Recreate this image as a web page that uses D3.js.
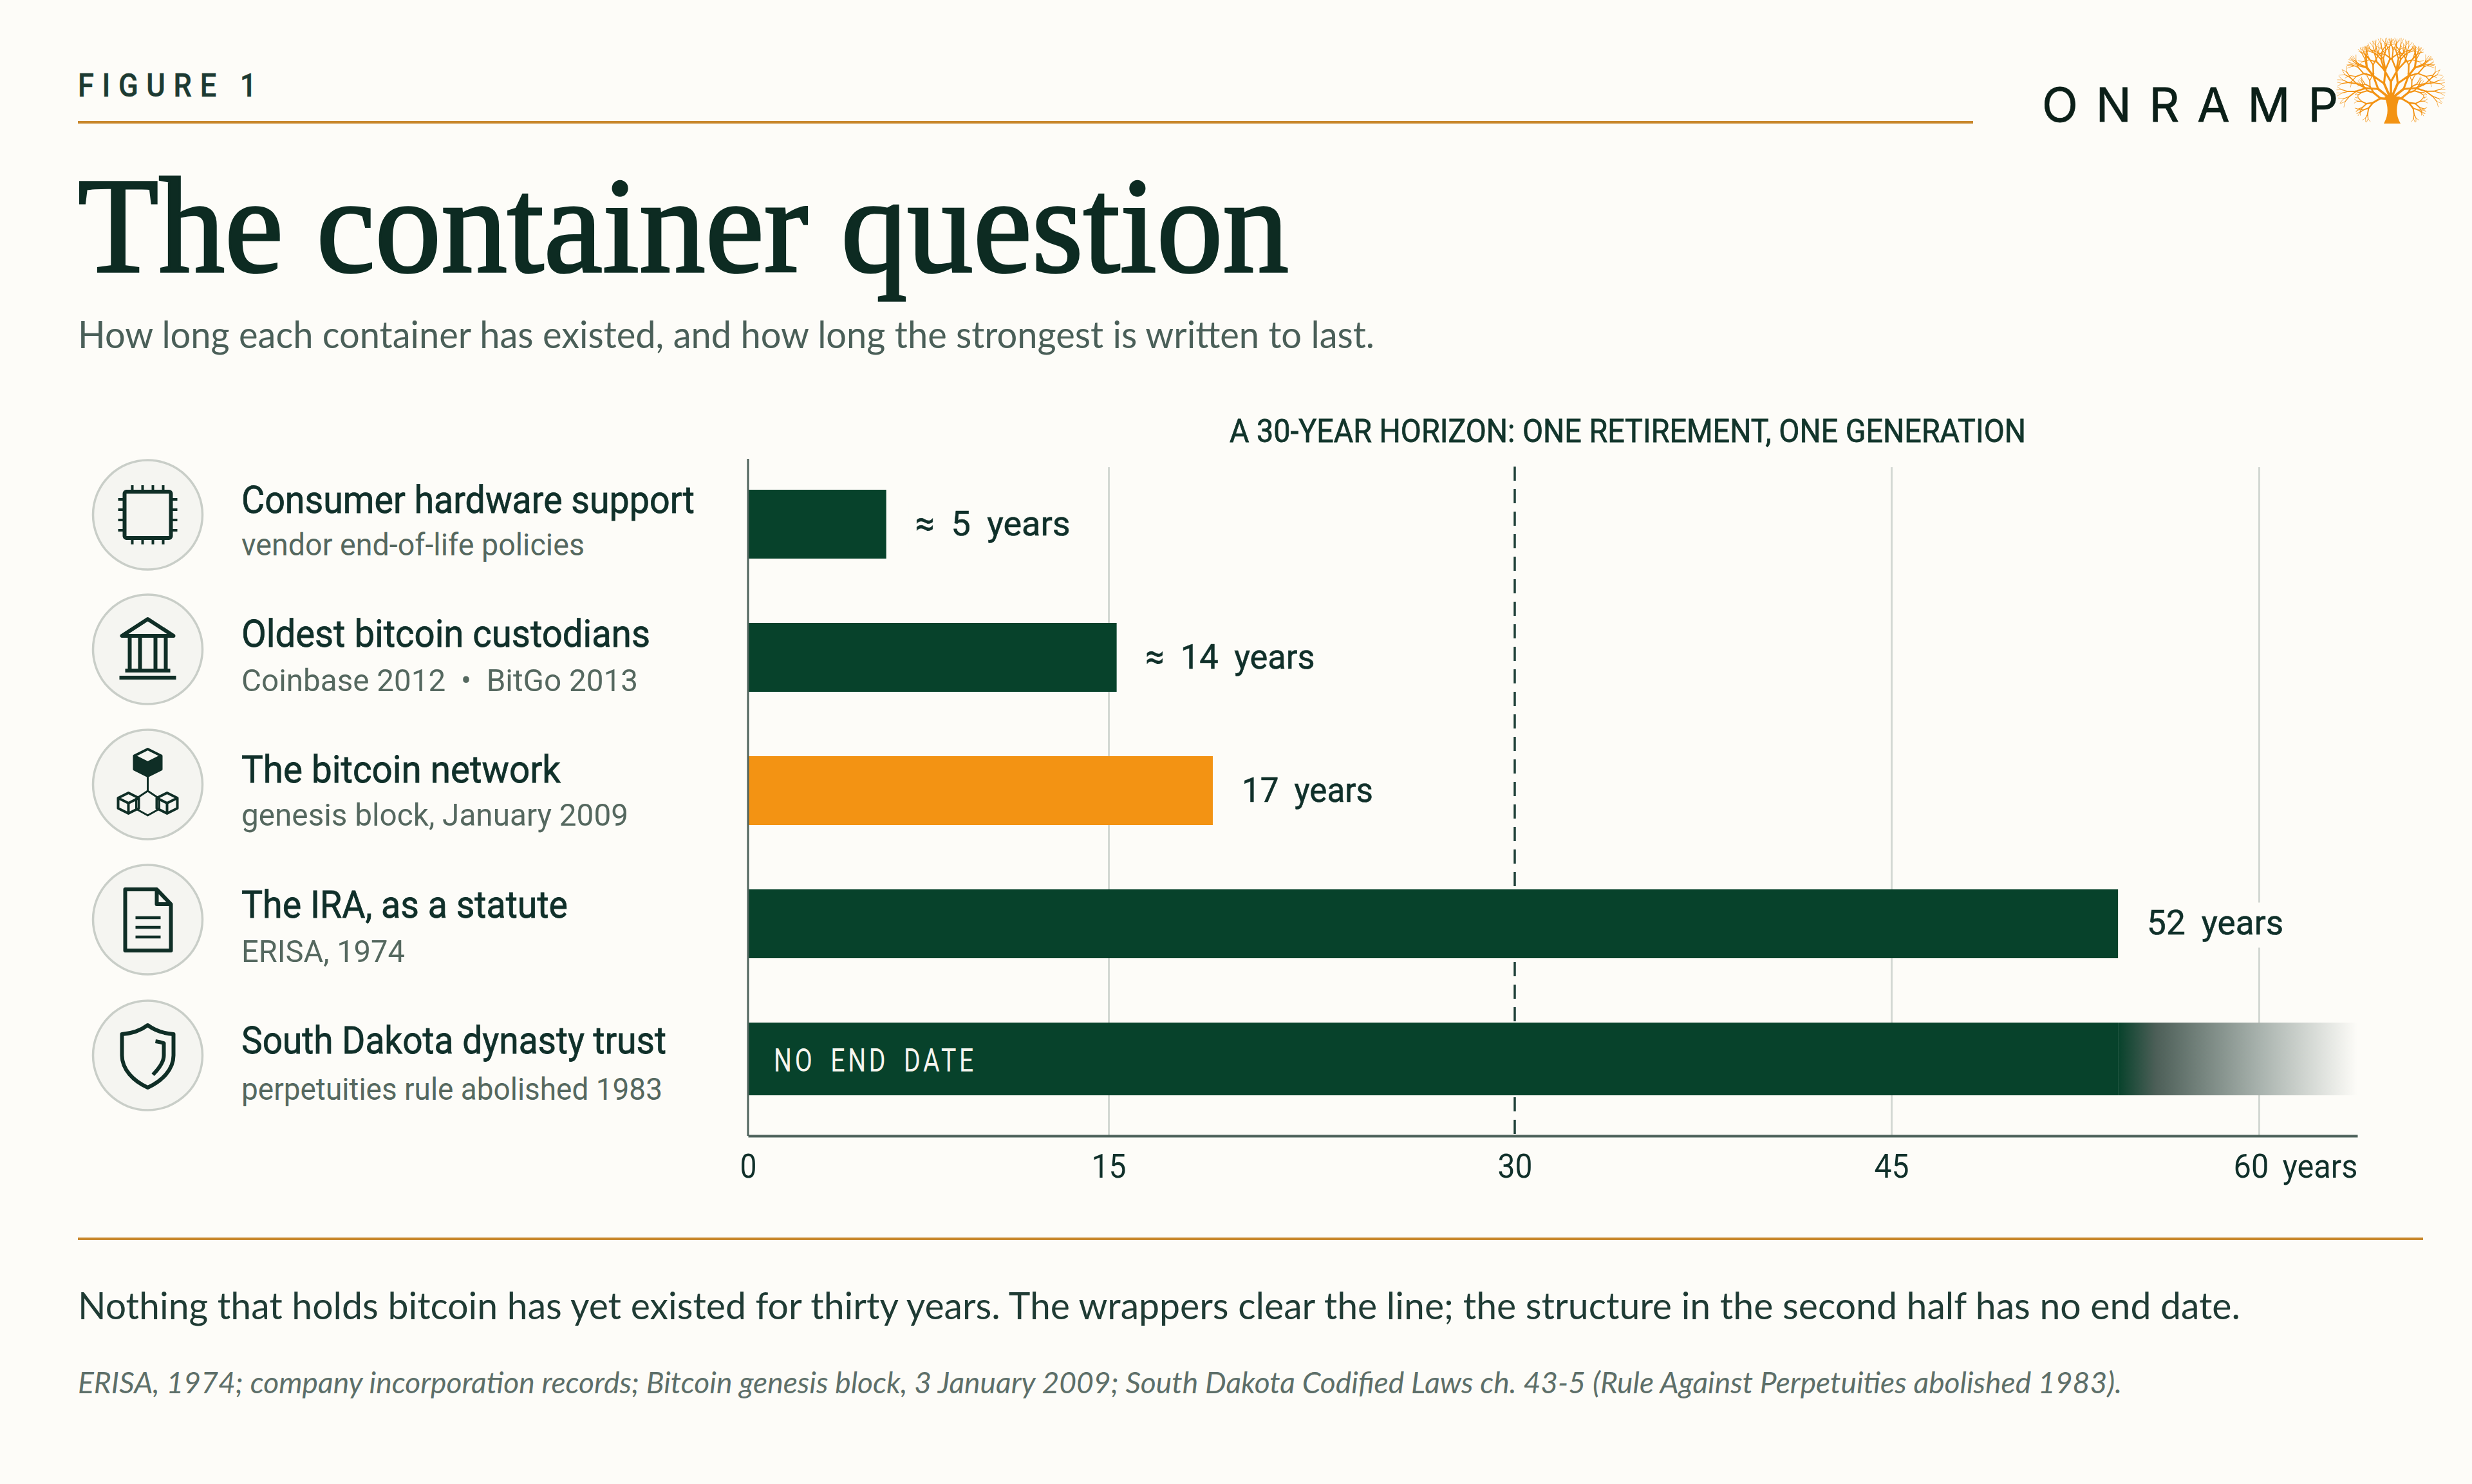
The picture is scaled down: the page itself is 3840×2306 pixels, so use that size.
<!DOCTYPE html>
<html>
<head>
<meta charset="utf-8">
<title>The container question</title>
<script src="https://cdn.jsdelivr.net/npm/d3@7"></script>
<style>
  html, body { margin: 0; padding: 0; background: #fdfcf8; }
  svg { display: block; }
  text { font-family: Roboto, sans-serif; }
</style>
</head>
<body>
<div class="chart"></div>
<script>
/* values */
const categories = ["Consumer hardware support", "Oldest bitcoin custodians", "The bitcoin network", "The IRA, as a statute", "South Dakota dynasty trust"];
const subLabels = ["vendor end-of-life policies", "Coinbase 2012\u00a0\u00a0•\u00a0\u00a0BitGo 2013", "genesis block, January 2009", "ERISA, 1974", "perpetuities rule abolished 1983"];
// where each bar ends against the drawn ticks; the printed labels say slightly less
const barValues = [5.75, 15.3, 18.85, 54.25];
const valueLabels = ["≈ 5 years", "≈ 14 years", "17 years", "52 years"];
const fadeValues = [54.25, 64]; // last bar is solid up to the first value, gone by the second
const noEndLabel = "NO END DATE";
const tickValues = [0, 15, 30, 45, 60];
const horizonValue = 30;
const horizonLabel = "A 30-YEAR HORIZON: ONE RETIREMENT, ONE GENERATION";

/* colours */
const bg = "#fdfcf8", green = "#07422b", orange = "#f39313", ink = "#10302a", muted = "#55685f";

const titleLens = [704, 635, 496, 507, 660];
const subLens = [533, 616, 601, 254, 654];
const valueLens = [241, 263, 204, 212];

const width = 3840, height = 2306;
const plotTop = 726, axisY = 1765;

const svg = d3.select(".chart").append("svg")
    .attr("width", width)
    .attr("height", height)
    .attr("viewBox", `0 0 ${width} ${height}`)
    .style("background", bg);

// the ticks in the reference are not evenly spaced, so the scale is piecewise
const x = d3.scaleLinear()
    .domain([0, 15, 30, 45, 60, 64])
    .range([1162, 1722, 2353, 2938, 3509, 3662]);

const y = d3.scaleBand()
    .domain(categories)
    .range([761, 1696])
    .paddingInner(0.483)
    .paddingOuter(0);

/**
 * Adds one text, squeezed or spread to the measured width
 */
function put(parent, str, px, py, size, color, len, opts = {}) {
    const t = parent.append("text")
        .attr("x", px)
        .attr("y", py)
        .attr("font-size", size)
        .attr("fill", color)
        .text(str);
    if (len) {
        t.attr("textLength", len).attr("lengthAdjust", opts.adjust || "spacingAndGlyphs");
    }
    if (opts.family) t.style("font-family", opts.family);
    if (opts.weight) t.attr("font-weight", opts.weight);
    if (opts.italic) t.attr("font-style", "italic");
    if (opts.wordSpacing) t.style("word-spacing", opts.wordSpacing + "px");
    if (opts.letterSpacing) t.style("letter-spacing", opts.letterSpacing + "px");
    if (opts.stroke) t.attr("stroke", color).attr("stroke-width", opts.stroke);
    return t;
}

/* header */
put(svg, "FIGURE 1", 121, 150, 50, "#1c3a32", 290, {weight: 500, letterSpacing: 14, stroke: 0.5});
svg.append("line").attr("x1", 121).attr("x2", 3065).attr("y1", 190).attr("y2", 190)
    .attr("stroke", "#c8872b").attr("stroke-width", 4);
put(svg, "The container question", 121, 422, 213, "#0d2b22", 1881, {family: "'Liberation Serif', serif", stroke: 3.5});
put(svg, "How long each container has existed, and how long the strongest is written to last.", 121, 541, 58, "#4a5f58", 2014, {family: "Lato, sans-serif"});

/* logo */
put(svg, "ONRAMP", 3172, 189, 73, "#0b1f18", 460, {family: "Inter, sans-serif", adjust: "spacing", stroke: 0.8});
drawTree();

/* grid and axis */
const gridAxis = d3.axisBottom(x).tickValues(tickValues.filter(d => d !== 0 && d !== horizonValue))
    .tickSize(-(axisY - plotTop)).tickFormat("");
const grid = svg.append("g").attr("transform", `translate(0,${axisY})`).call(gridAxis);
grid.select(".domain").remove();
grid.selectAll("line").attr("stroke", "#d3d8d3").attr("stroke-width", 3);

svg.append("line")
    .attr("x1", x(horizonValue)).attr("x2", x(horizonValue))
    .attr("y1", 725).attr("y2", axisY)
    .attr("stroke", "#1f4038").attr("stroke-width", 3.5)
    .attr("stroke-dasharray", "22 13");
put(svg, horizonLabel, 1910, 687, 50, "#12352b", 1237, {stroke: 0.8});

/* bars */
svg.selectAll("rect.bar")
    .data(barValues)
    .enter()
    .append("rect")
    .attr("class", "bar")
    .attr("x", x(0))
    .attr("y", (d, i) => y(categories[i]))
    .attr("width", d => x(d) - x(0))
    .attr("height", y.bandwidth())
    .attr("fill", (d, i) => i === 2 ? orange : green);

// last bar fades out, it has no end
const defs = svg.append("defs");
const fade = defs.append("linearGradient").attr("id", "fade")
    .attr("gradientUnits", "userSpaceOnUse")
    .attr("x1", x(fadeValues[0])).attr("x2", x(fadeValues[1]))
    .attr("y1", 0).attr("y2", 0);
[[0, green], [0.16, "#4d5f58"], [0.59, "#a8b2ad"], [1, bg]].forEach(s => {
    fade.append("stop").attr("offset", s[0]).attr("stop-color", s[1]);
});
const lastTop = y(categories[4]);
svg.append("rect")
    .attr("x", x(0)).attr("y", lastTop)
    .attr("width", x(fadeValues[0]) - x(0))
    .attr("height", y.bandwidth() + 6)
    .attr("fill", green);
svg.append("rect")
    .attr("x", x(fadeValues[0])).attr("y", lastTop)
    .attr("width", x(fadeValues[1]) - x(fadeValues[0]))
    .attr("height", y.bandwidth() + 6)
    .attr("fill", "url(#fade)");
put(svg, noEndLabel, 1202, 1665, 50, "#f6f5ef", 315, {letterSpacing: 6, wordSpacing: 12});

/* value labels, with a patch of paper so gridlines stop short of the text */
barValues.forEach((d, i) => {
    const lx = x(d) + 45;
    const ly = y(categories[i]) + y.bandwidth() / 2 + 17;
    svg.append("rect")
        .attr("x", lx - 10).attr("y", ly - 50)
        .attr("width", valueLens[i] + 20).attr("height", 70)
        .attr("fill", bg);
    put(svg, valueLabels[i], lx, ly, 54, ink, valueLens[i], {wordSpacing: 12, stroke: 0.6});
});

/* axes, drawn last so the lines sit on the bars' ends */
svg.append("line")
    .attr("x1", x(0)).attr("x2", x(0)).attr("y1", 713).attr("y2", axisY)
    .attr("stroke", "#4f635c").attr("stroke-width", 3);

const xAxis = d3.axisBottom(x)
    .tickValues(tickValues)
    .tickSize(0)
    .tickPadding(40)
    .tickFormat(d => d === 60 ? "60 years" : d);
const axisG = svg.append("g").attr("transform", `translate(0,${axisY})`).call(xAxis);
axisG.select(".domain").attr("stroke", "#4f635c").attr("stroke-width", 4);
axisG.selectAll("text")
    .attr("font-size", 52)
    .attr("fill", ink)
    .attr("y", 65)
    .attr("dy", 0)
    .style("font-family", "Roboto, sans-serif")
    .attr("textLength", d => d === 0 ? 26 : d === 60 ? 193 : 54)
    .attr("lengthAdjust", "spacingAndGlyphs");
axisG.selectAll(".tick").filter(d => d === 60).select("text")
    .attr("text-anchor", "start")
    .attr("x", -40)
    .style("word-spacing", "10px");

/* left column */
const rowCentres = [800, 1009, 1219, 1429, 1640];
const titleBase = [797, 1005, 1216, 1426, 1637];
const subBase = [863, 1074, 1283, 1495, 1709];
const iconDraw = [iconChip, iconBank, iconBlocks, iconDoc, iconShield];

categories.forEach((name, i) => {
    const g = svg.append("g").attr("transform", `translate(229.5,${rowCentres[i]})`);
    g.append("circle").attr("r", 85).attr("fill", "#f5f5f1").attr("stroke", "#c9cec8").attr("stroke-width", 3.5);
    const icon = g.append("g").attr("fill", "none").attr("stroke", "#0f2e26")
        .attr("stroke-width", 6).attr("stroke-linejoin", "round");
    iconDraw[i](icon);
    put(svg, name, 375, titleBase[i], 59, ink, titleLens[i], {stroke: 0.8});
    put(svg, subLabels[i], 375, subBase[i], 49, muted, subLens[i]);
});

/* footer */
svg.append("line").attr("x1", 121).attr("x2", 3764).attr("y1", 1925).attr("y2", 1925)
    .attr("stroke", "#c8872b").attr("stroke-width", 4);
put(svg, "Nothing that holds bitcoin has yet existed for thirty years. The wrappers clear the line; the structure in the second half has no end date.", 121, 2050, 58, "#1f3b34", 3359, {family: "Lato, sans-serif"});
put(svg, "ERISA, 1974; company incorporation records; Bitcoin genesis block, 3 January 2009; South Dakota Codified Laws ch. 43-5 (Rule Against Perpetuities abolished 1983).", 121, 2165, 46, "#5d6f69", 3175, {family: "Lato, sans-serif", italic: true});

/**
 * Draws the orange logo tree: tapered trunk and a branching crown
 */
function drawTree() {
    const g = svg.append("g").attr("fill", "none").attr("stroke", orange).attr("stroke-linecap", "round");
    g.append("path")
        .attr("d", "M3703 192 C3711 178 3710 165 3704 150 L3728 150 C3722 165 3721 178 3729 192 Z")
        .attr("fill", orange).attr("stroke", "none");
    const levels = d3.range(6).map(() => d3.path());
    function branch(px, py, angle, len, depth) {
        const nx = px + Math.sin(angle) * len * 0.9;
        const ny = py - Math.cos(angle) * len;
        levels[depth].moveTo(px, py);
        levels[depth].lineTo(nx, ny);
        if (depth === 0) return;
        const spread = 0.4 + 0.16 * Math.sin(depth * 3.1 + px * 0.7);
        branch(nx, ny, angle - spread, len * 0.8, depth - 1);
        branch(nx, ny, angle + spread, len * 0.8, depth - 1);
    }
    [-1.5, -0.95, -0.45, 0, 0.45, 0.95, 1.5].forEach(a => {
        branch(3714, 154, a, Math.abs(a) > 1.2 ? 18 : 27, 5);
    });
    levels.forEach((p, depth) => {
        g.append("path").attr("d", p.toString()).attr("stroke-width", 0.7 + depth * 0.6);
    });
}

/* icons, drawn around the circle centre */
function iconChip(g) {
    g.append("rect").attr("x", -36).attr("y", -36).attr("width", 72).attr("height", 72).attr("rx", 3);
    const pins = d3.path();
    [-24, -8, 8, 24].forEach(p => {
        pins.moveTo(p, -36); pins.lineTo(p, -46);
        pins.moveTo(p, 36); pins.lineTo(p, 46);
        pins.moveTo(-36, p); pins.lineTo(-46, p);
        pins.moveTo(36, p); pins.lineTo(46, p);
    });
    g.append("path").attr("d", pins.toString()).attr("stroke-width", 4);
}

function iconBank(g) {
    g.append("path").attr("d", "M0 -47 L-40 -21 L40 -21 Z");
    g.append("path").attr("d", "M-28 -21 V30 M-12 -21 V30 M12 -21 V30 M28 -21 V30");
    g.append("path").attr("d", "M-35 33 H35 M-44 44 H44");
}

function cube(g, cx, cy, r, filled) {
    g.append("path").attr("stroke-width", 4)
        .attr("d", `M${cx} ${cy - r} L${cx + r} ${cy - r / 2} V${cy + r / 2} L${cx} ${cy + r} L${cx - r} ${cy + r / 2} V${cy - r / 2} Z M${cx - r} ${cy - r / 2} L${cx} ${cy} L${cx + r} ${cy - r / 2} M${cx} ${cy} V${cy + r}`);
    if (filled) {
        g.append("path").attr("fill", "#0f2e26").attr("stroke", "none")
            .attr("d", `M${cx - r} ${cy - r / 2} L${cx} ${cy} V${cy + r} L${cx - r} ${cy + r / 2} Z M${cx + r} ${cy - r / 2} L${cx} ${cy} V${cy + r} L${cx + r} ${cy + r / 2} Z`);
    }
}

function iconBlocks(g) {
    cube(g, 0, -34, 21, true);
    g.append("path").attr("stroke-width", 3).attr("d", "M0 -12 V10 M-18 22 L0 10 L18 22 V38 L0 48 L-18 38 Z");
    cube(g, -30, 29, 16, false);
    cube(g, 30, 29, 16, false);
}

function iconDoc(g) {
    g.append("path").attr("d", "M-35 -47 H14 L36 -24 V48 H-35 Z M14 -47 V-24 H36");
    g.append("path").attr("stroke-width", 4.5).attr("d", "M-19 -3 H20 M-19 12 H20 M-19 27 H20");
}

function iconShield(g) {
    g.append("path").attr("d", "M0 -47 C12 -38 26 -34 40 -33 V0 C40 22 22 40 0 50 C-22 40 -40 22 -40 0 V-33 C-26 -34 -12 -38 0 -47 Z");
    g.append("path").attr("d", "M12 -22 C18 -21 22 -20 25 -19 V0 C25 10 18 20 8 30");
}
</script>
</body>
</html>
